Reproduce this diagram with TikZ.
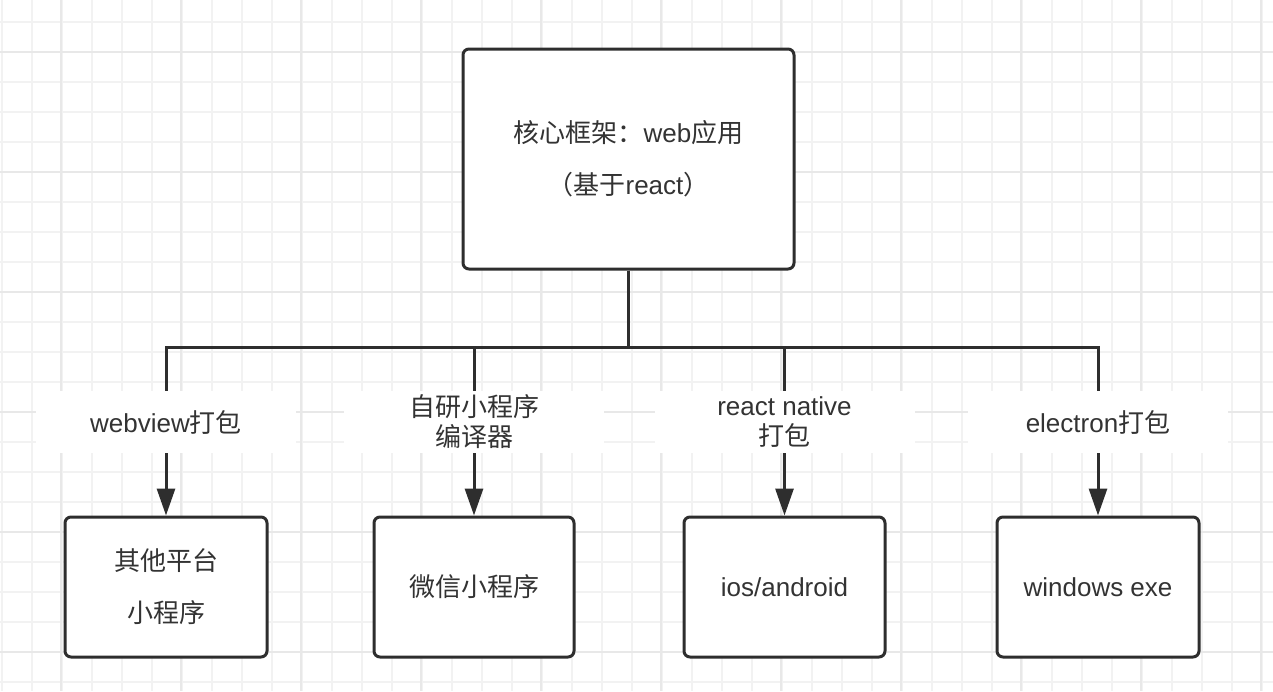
\documentclass[tikz,border=0pt]{standalone}
\usepackage{fontspec}
\setmainfont{Liberation Sans}
\newfontfamily\cjk{Noto Sans CJK SC}
\usetikzlibrary{arrows.meta}
\definecolor{ink}{HTML}{333333}
\definecolor{lineink}{HTML}{2E2E2E}
\definecolor{gridminor}{HTML}{F2F2F2}
\definecolor{gridmajor}{HTML}{E8E8E8}
\begin{document}
\begin{tikzpicture}[x=1pt,y=-1pt,
  box/.style={draw=lineink, line width=3pt, rounded corners=6pt, fill=white,
    align=center, text=ink, inner sep=0pt, font=\fontsize{26}{52}\selectfont},
  lbl/.style={fill=white, align=center, text=ink, inner sep=0pt,
    minimum width=260pt, minimum height=62pt, font=\fontsize{26}{30}\selectfont},
  conn/.style={draw=lineink, line width=3pt, line join=miter,
    -{Triangle[width=18pt,length=27pt]}}
]
\useasboundingbox (0,0) rectangle (1273,691);
\fill[white] (0,0) rectangle (1273,691);
% grid
\foreach \x in {2,32,...,1272} \draw[gridminor, line width=1.2pt] (\x,0) -- (\x,691);
\foreach \y in {22,52,...,690} \draw[gridminor, line width=1.2pt] (0,\y) -- (1273,\y);
\foreach \x in {61,181,...,1272} \draw[gridmajor, line width=1.4pt] (\x,0) -- (\x,691);
\foreach \y in {52,172,...,690} \draw[gridmajor, line width=1.4pt] (0,\y) -- (1273,\y);

% boxes
\node[box, minimum width=331pt, minimum height=220pt] (top) at (628.5,159)
  {{\cjk 核心框架：}web{\cjk 应用}\\{\cjk （基于}react{\cjk ）}};
\node[box, minimum width=202pt, minimum height=140pt] (b1) at (166,587)
  {{\cjk 其他平台}\\{\cjk 小程序}};
\node[box, minimum width=200pt, minimum height=140pt] (b2) at (474,587)
  {{\cjk 微信小程序}};
\node[box, minimum width=201pt, minimum height=140pt] (b3) at (784.5,587)
  {ios/android};
\node[box, minimum width=202pt, minimum height=140pt] (b4) at (1098,587)
  {windows exe};

\coordinate (bus) at (0,347);

% connectors
\draw[conn] (top.south) -- (top.south |- bus) -| (b1.north);
\draw[conn] (top.south) -- (top.south |- bus) -| (b2.north);
\draw[conn] (top.south) -- (top.south |- bus) -| (b3.north);
\draw[conn] (top.south) -- (top.south |- bus) -| (b4.north);

% labels
\node[lbl] (l1) at (b1.north |- 0,422) {webview{\cjk 打包}};
\node[lbl] (l2) at (b2.north |- 0,422) {{\cjk 自研小程序}\\{\cjk 编译器}};
\node[lbl] (l3) at (b3.north |- 0,422) {react native\\{\cjk 打包}};
\node[lbl] (l4) at (b4.north |- 0,422) {electron{\cjk 打包}};
\end{tikzpicture}
\end{document}
